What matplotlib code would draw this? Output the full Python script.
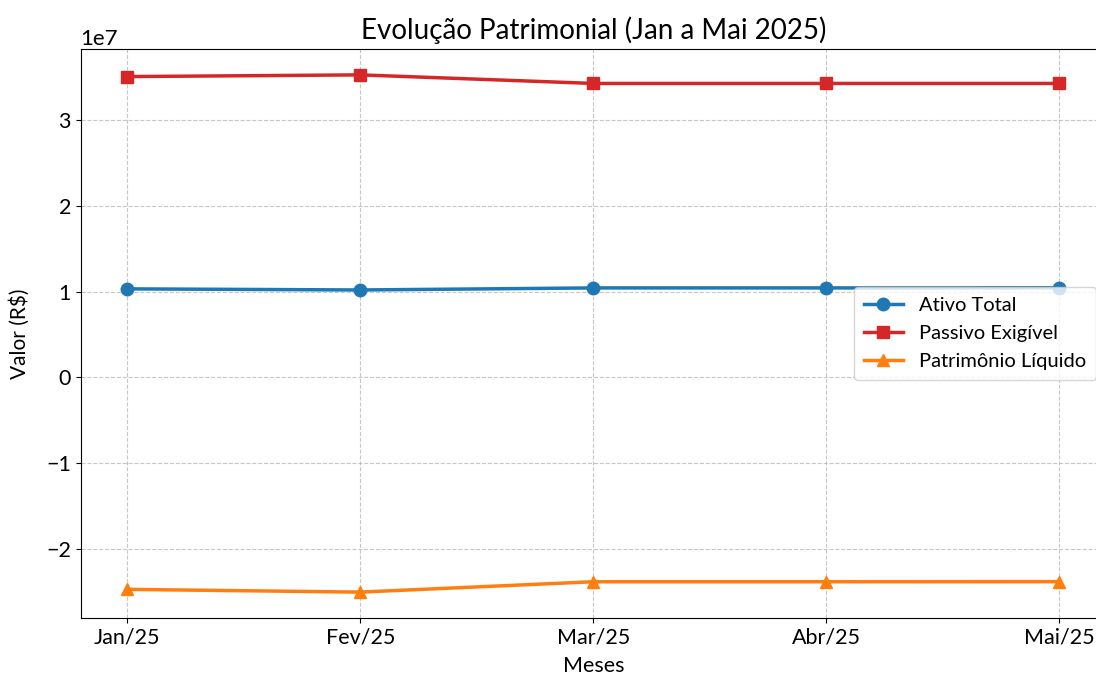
import matplotlib
matplotlib.use("Agg")
import matplotlib.pyplot as plt

meses = ["Jan/25", "Fev/25", "Mar/25", "Abr/25", "Mai/25"]
ativo_total = [1.034e7, 1.021e7, 1.045e7, 1.045e7, 1.046e7]
passivo_exigivel = [3.512e7, 3.532e7, 3.432e7, 3.432e7, 3.432e7]
patrimonio_liquido = [-2.474e7, -2.506e7, -2.385e7, -2.385e7, -2.384e7]

plt.rcParams['font.family'] = ['Lato', 'DejaVu Sans']

fig = plt.figure(figsize=(10.96, 6.77), dpi=100)
ax = fig.add_axes([0.0736, 0.0872, 0.9355, 0.8404])

ax.plot(meses, ativo_total, marker='o', color='#1f77b4', linewidth=2.5, markersize=9, label='Ativo Total')
ax.plot(meses, passivo_exigivel, marker='s', color='#d62728', linewidth=2.5, markersize=9, label='Passivo Exigível')
ax.plot(meses, patrimonio_liquido, marker='^', color='#ff7f0e', linewidth=2.5, markersize=9, label='Patrimônio Líquido')

ax.set_title('Evolução Patrimonial (Jan a Mai 2025)', fontsize=20, pad=7)
ax.set_xlabel('Meses', fontsize=15.5, labelpad=6)
ax.set_ylabel('Valor (R$)', fontsize=15, labelpad=12)
ax.tick_params(axis='both', labelsize=15.5)
ax.yaxis.get_offset_text().set_fontsize(16)
ax.grid(True, linestyle='--', alpha=0.7)
ax.legend(loc='center right', fontsize=14.5, borderpad=0.5, labelspacing=0.55,
          handlelength=1.9)

fig.savefig('out.png', dpi=100)
